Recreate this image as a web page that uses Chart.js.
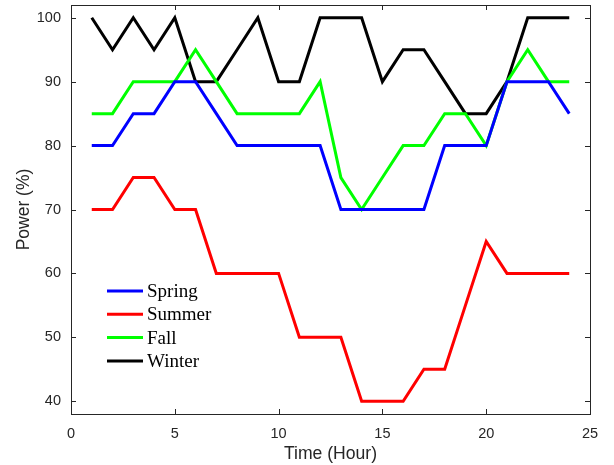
<!DOCTYPE html>
<html>
<head>
<meta charset="utf-8">
<script src="https://cdn.jsdelivr.net/npm/chart.js@4"></script>
<style>
  html, body { margin: 0; padding: 0; background: #fff; }
  #wrap { width: 614px; height: 465px; }
</style>
</head>
<body>
<div id="wrap"><canvas id="c" width="614" height="465"></canvas></div>
<script>
// datos
const hours = [1, 2, 3, 4, 5, 6, 7, 8, 9, 10, 11, 12, 13, 14, 15, 16, 17, 18, 19, 20, 21, 22, 23, 24];
const spring = [80, 80, 85, 85, 90, 90, 85, 80, 80, 80, 80, 80, 70, 70, 70, 70, 70, 80, 80, 80, 90, 90, 90, 85];
const summer = [70, 70, 75, 75, 70, 70, 60, 60, 60, 60, 50, 50, 50, 40, 40, 40, 45, 45, 55, 65, 60, 60, 60, 60];
const fall = [85, 85, 90, 90, 90, 95, 90, 85, 85, 85, 85, 90, 75, 70, 75, 80, 80, 85, 85, 80, 90, 95, 90, 90];
const winter = [100, 95, 100, 95, 100, 90, 90, 95, 100, 90, 90, 100, 100, 100, 90, 95, 95, 90, 85, 85, 90, 100, 100, 100];
const xTicks = [0, 5, 10, 15, 20, 25];
const yTicks = [40, 50, 60, 70, 80, 90, 100];

const axisColor = '#262626';
const sansFont = "'Liberation Sans', Arial, sans-serif";

const toPoints = (vals) => vals.map((v, i) => ({ x: hours[i], y: v }));

const mkSet = (label, vals, color) => ({
  label: label,
  data: toPoints(vals),
  borderColor: color,
  backgroundColor: color,
  borderWidth: 3,
  pointRadius: 0,
  tension: 0,
  fill: false
});

// marco con marcas hacia dentro en los cuatro lados
const framePlugin = {
  id: 'frame',
  afterDraw(chart) {
    const { ctx, chartArea: a, scales } = chart;
    const len = 5;
    ctx.save();
    ctx.strokeStyle = axisColor;
    ctx.lineWidth = 1;
    ctx.strokeRect(a.left + 0.5, a.top + 0.5, a.right - a.left, a.bottom - a.top);
    ctx.beginPath();
    xTicks.forEach(v => {
      const px = Math.round(scales.x.getPixelForValue(v)) + 0.5;
      ctx.moveTo(px, a.bottom); ctx.lineTo(px, a.bottom - len);
      ctx.moveTo(px, a.top); ctx.lineTo(px, a.top + len);
    });
    yTicks.forEach(v => {
      const py = Math.round(scales.y.getPixelForValue(v)) + 0.5;
      ctx.moveTo(a.left, py); ctx.lineTo(a.left + len, py);
      ctx.moveTo(a.right, py); ctx.lineTo(a.right - len, py);
    });
    ctx.stroke();
    ctx.restore();
  }
};

// leyenda dentro del área
const legendPlugin = {
  id: 'innerLegend',
  afterDraw(chart) {
    const { ctx } = chart;
    const x0 = 107, y0 = 291, rowH = 23.3;
    ctx.save();
    ctx.font = "19px 'Liberation Serif', 'Times New Roman', serif";
    ctx.textBaseline = 'middle';
    ctx.fillStyle = '#000';
    chart.data.datasets.forEach((ds, i) => {
      const y = y0 + i * rowH;
      ctx.strokeStyle = ds.borderColor;
      ctx.lineWidth = 3;
      ctx.beginPath();
      ctx.moveTo(x0, y);
      ctx.lineTo(x0 + 36, y);
      ctx.stroke();
      ctx.fillText(ds.label, x0 + 40, y + 1);
    });
    ctx.restore();
  }
};

const chart = new Chart(document.getElementById('c').getContext('2d'), {
  type: 'line',
  data: {
    datasets: [
      mkSet('Spring', spring, '#0000ff'),
      mkSet('Summer', summer, '#ff0000'),
      mkSet('Fall', fall, '#00ff00'),
      mkSet('Winter', winter, '#000000')
    ]
  },
  options: {
    responsive: false,
    animation: false,
    layout: { autoPadding: false, padding: { top: 5, right: 24, left: 0, bottom: 0 } },
    plugins: {
      legend: { display: false },
      tooltip: { enabled: false }
    },
    scales: {
      x: {
        type: 'linear',
        min: 0,
        max: 25,
        afterBuildTicks: (s) => { s.ticks = xTicks.map(v => ({ value: v })); },
        afterFit: (s) => { s.height = 51; s.paddingLeft = 0; s.paddingRight = 0; },
        grid: { display: false, drawTicks: false },
        border: { display: false },
        ticks: {
          color: axisColor,
          padding: 11,
          maxRotation: 0,
          font: { family: sansFont, size: 14.5 }
        },
        title: {
          display: true,
          text: 'Time (Hour)',
          color: axisColor,
          padding: { top: 2, bottom: 0 },
          font: { family: sansFont, size: 17.6 }
        }
      },
      y: {
        min: 38,
        max: 102,
        afterBuildTicks: (s) => { s.ticks = yTicks.map(v => ({ value: v })); },
        afterFit: (s) => { s.width = 71; s.paddingTop = 0; s.paddingBottom = 0; },
        grid: { display: false, drawTicks: false },
        border: { display: false },
        ticks: {
          color: axisColor,
          padding: 10,
          font: { family: sansFont, size: 14.5 }
        },
        title: {
          display: true,
          text: 'Power (%)',
          color: axisColor,
          padding: { top: 13.5, bottom: 0 },
          font: { family: sansFont, size: 17.5 }
        }
      }
    }
  },
  plugins: [framePlugin, legendPlugin]
});
</script>
</body>
</html>
